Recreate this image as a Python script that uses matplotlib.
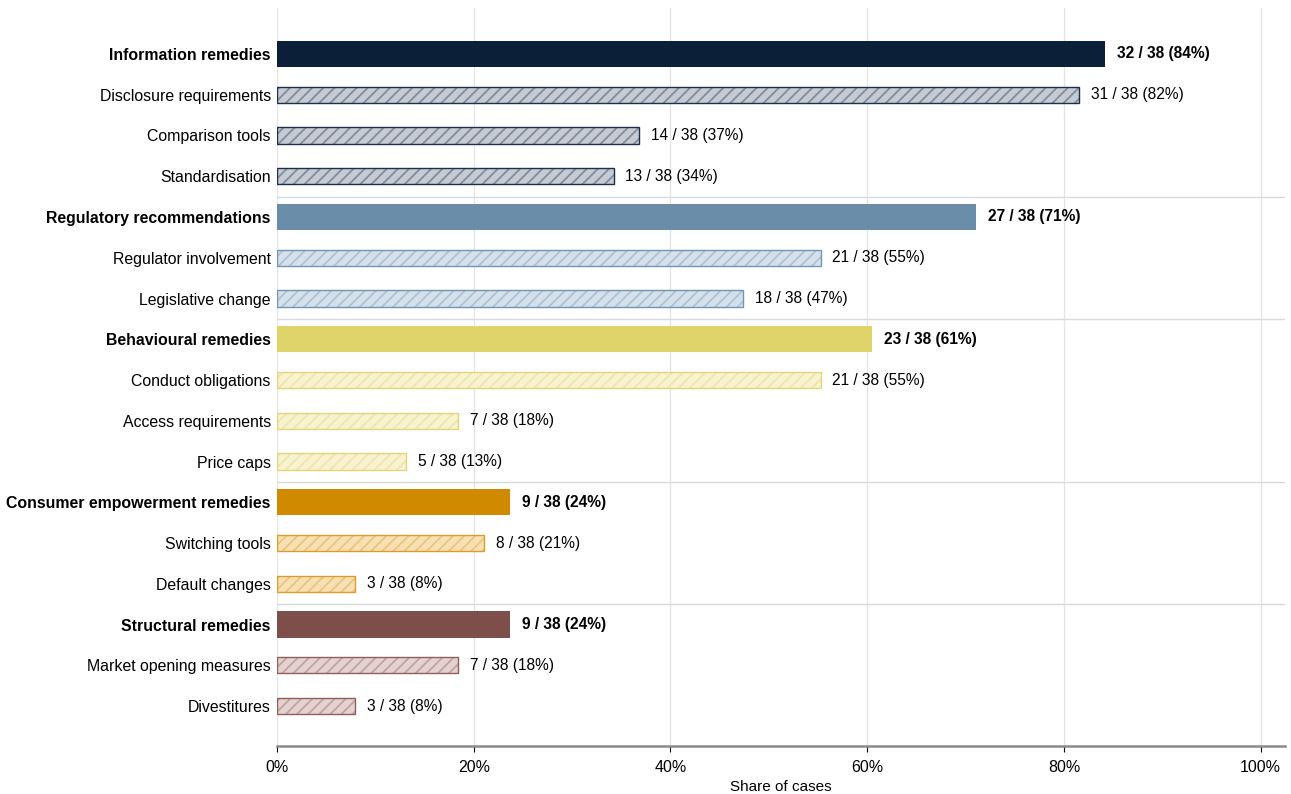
import matplotlib.pyplot as plt
from matplotlib.ticker import FuncFormatter
from matplotlib.colors import to_rgba

plt.rcParams["font.family"] = ["Liberation Sans", "DejaVu Sans"]
plt.rcParams["hatch.linewidth"] = 1.3

TOTAL = 38

groups = [
    "Information remedies",
    "Regulatory recommendations",
    "Behavioural remedies",
    "Consumer empowerment remedies",
    "Structural remedies",
]
group_counts = [32, 27, 23, 9, 9]
subitems = [
    ["Disclosure requirements", "Comparison tools", "Standardisation"],
    ["Regulator involvement", "Legislative change"],
    ["Conduct obligations", "Access requirements", "Price caps"],
    ["Switching tools", "Default changes"],
    ["Market opening measures", "Divestitures"],
]
sub_counts = [
    [31, 14, 13],
    [21, 18],
    [21, 7, 5],
    [8, 3],
    [7, 3],
]

main_colors = ["#0b2038", "#6a8ea9", "#dfd46a", "#d08a00", "#7e4e4a"]
sub_fill = ["#c5cad3", "#d6e0ea", "#f7f2cf", "#f7e0b3", "#e3d2d0"]
sub_edge = ["#1e3048", "#7196b2", "#e3d67a", "#dc9c2c", "#8f5f5b"]

fig, ax = plt.subplots(figsize=(12.91, 7.94), dpi=100)
fig.subplots_adjust(left=0.2146, right=0.9955, top=0.99, bottom=0.0605)

row = 0
separators = []
labels = []
for g, name in enumerate(groups):
    if g > 0:
        separators.append(row - 0.5)
    pct = group_counts[g] / TOTAL * 100
    ax.barh(row, pct, height=0.64, color=main_colors[g], zorder=3)
    ax.text(pct + 1.2, row, f"{group_counts[g]} / {TOTAL} ({round(pct)}%)",
            va="center", ha="left", fontsize=11.2, fontweight="bold", color="#000000")
    labels.append((row, name, True))
    row += 1
    for sname, n in zip(subitems[g], sub_counts[g]):
        p = n / TOTAL * 100
        ax.barh(row, p, height=0.4, color=sub_fill[g], hatch="///",
                edgecolor=to_rgba(sub_edge[g], 0.4), linewidth=0, zorder=3)
        ax.barh(row, p, height=0.4, fill=False, edgecolor=sub_edge[g],
                linewidth=1.0, zorder=4)
        ax.text(p + 1.2, row, f"{n} / {TOTAL} ({round(p)}%)",
                va="center", ha="left", fontsize=11.2, color="#000000")
        labels.append((row, sname, False))
        row += 1

for s in separators:
    ax.axhline(s, color="#d9d9d9", linewidth=1.0, zorder=1)

ax.set_yticks([r for r, _, _ in labels])
ax.set_yticklabels([n for _, n, _ in labels], fontsize=11.4)
for tl, (_, _, bold) in zip(ax.get_yticklabels(), labels):
    if bold:
        tl.set_fontweight("bold")
ax.tick_params(axis="y", length=0, pad=4.5)

ax.set_ylim(row - 1 + 0.98, -1.13)
ax.set_xlim(0, 102.5)
ax.set_xticks([0, 20, 40, 60, 80, 100])
ax.xaxis.set_major_formatter(FuncFormatter(lambda v, _: f"{v:.0f}%"))
ax.tick_params(axis="x", labelsize=11.5, length=4, color="#000000", pad=6)
ax.set_xlabel("Share of cases", fontsize=11, labelpad=4)

ax.grid(axis="x", color="#e3e3e3", linewidth=0.9, zorder=0)
ax.set_axisbelow(True)
for side in ["top", "right", "left"]:
    ax.spines[side].set_visible(False)
ax.spines["bottom"].set_color("#8a8a8a")
ax.spines["bottom"].set_linewidth(1.8)

fig.savefig("out.png", dpi=100)
